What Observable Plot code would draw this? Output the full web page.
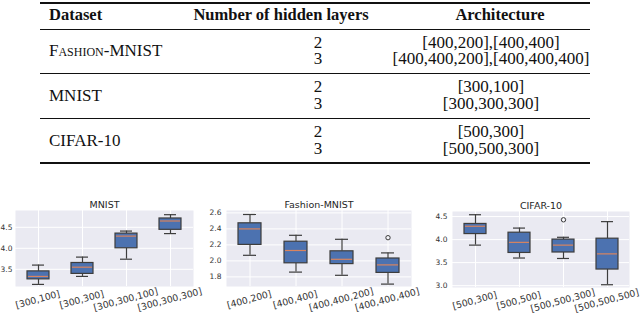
<!DOCTYPE html>
<html><head><meta charset="utf-8">
<script src="https://cdn.jsdelivr.net/npm/d3@7"></script>
<script src="https://cdn.jsdelivr.net/npm/@observablehq/plot@0.6"></script>
<style>
html,body{margin:0;padding:0;background:#fff;}
#root{position:relative;width:640px;height:315px;overflow:hidden;background:#fff;}
.cell{position:absolute;line-height:16.5px;font-family:"Liberation Serif","DejaVu Serif","Times New Roman",serif;color:#111;white-space:nowrap;font-size:17px;}
.cell span{display:block;height:16.5px;line-height:16.5px;}
.hdr{font-weight:bold;font-size:16.5px;}
.sc{font-variant:small-caps;}
.rule{position:absolute;left:40px;width:550px;background:#111;}
.panel{position:absolute;}
</style></head><body><div id="root"></div>
<script>
// ---- Table data ----
const tableHeaders = ["Dataset", "Number of hidden layers", "Architecture"];
const tableDatasets = ["Fashion-MNIST", "MNIST", "CIFAR-10"];
const tableLayers = [["2", "3"], ["2", "3"], ["2", "3"]];
const tableArchs = [
  ["[400,200],[400,400]", "[400,400,200],[400,400,400]"],
  ["[300,100]", "[300,300,300]"],
  ["[500,300]", "[500,500,300]"]
];

// ---- Box plot data ----
const mnistTitle = "MNIST";
const mnistCats = ["[300,100]", "[300,300]", "[300,300,100]", "[300,300,300]"];
const mnistLo  = [3.14, 3.33, 3.74, 4.35];
const mnistQ1  = [3.26, 3.39, 4.00, 4.44];
const mnistMed = [3.33, 3.55, 4.29, 4.65];
const mnistQ3  = [3.45, 3.65, 4.35, 4.71];
const mnistHi  = [3.60, 3.79, 4.41, 4.80];
const mnistOutCat = [];
const mnistOutVal = [];
const mnistTicks = [3.5, 4.0, 4.5];

const fashionTitle = "Fashion-MNIST";
const fashionCats = ["[400,200]", "[400,400]", "[400,400,200]", "[400,400,400]"];
const fashionLo  = [2.07, 1.86, 1.82, 1.71];
const fashionQ1  = [2.20, 1.97, 1.96, 1.85];
const fashionMed = [2.40, 2.13, 2.02, 1.95];
const fashionQ3  = [2.47, 2.24, 2.12, 2.03];
const fashionHi  = [2.58, 2.32, 2.27, 2.10];
const fashionOutCat = ["[400,400,400]"];
const fashionOutVal = [2.29];
const fashionTicks = [1.8, 2.0, 2.2, 2.4, 2.6];

const cifarTitle = "CIFAR-10";
const cifarCats = ["[500,300]", "[500,500]", "[500,500,300]", "[500,500,500]"];
const cifarLo  = [3.88, 3.60, 3.59, 3.02];
const cifarQ1  = [4.12, 3.71, 3.72, 3.35];
const cifarMed = [4.29, 3.94, 3.88, 3.69];
const cifarQ3  = [4.34, 4.15, 4.00, 4.02];
const cifarHi  = [4.54, 4.25, 4.05, 4.39];
const cifarOutCat = ["[500,500,300]"];
const cifarOutVal = [4.43];
const cifarTicks = [3.0, 3.5, 4.0, 4.5];

const root = document.getElementById("root");

// ---- Table ----
function rule(y, h) {
  const d = document.createElement("div");
  d.className = "rule";
  d.style.top = y + "px";
  d.style.height = h + "px";
  root.appendChild(d);
}
// lines: array of strings; cy = vertical centre of the first line
function cell(lines, x, cy, align, cls) {
  const d = document.createElement("div");
  d.className = "cell " + (cls || "");
  lines.forEach(t => {
    const s = document.createElement("span");
    s.textContent = t;
    d.appendChild(s);
  });
  d.style.top = (cy - 8.25) + "px";
  if (align === "left") { d.style.left = x + "px"; }
  else { d.style.left = (x - 200) + "px"; d.style.width = "400px"; d.style.textAlign = "center"; }
  root.appendChild(d);
}
rule(2, 1.7);
rule(28.6, 0.9);
cell([tableHeaders[0]], 49, 15, "left", "hdr");
cell([tableHeaders[1]], 281, 15, "center", "hdr");
cell([tableHeaders[2]], 500, 15, "center", "hdr");
const groupTops = [29, 73.7, 118.4];
tableDatasets.forEach((ds, i) => {
  const R = groupTops[i];
  cell([ds], 49, R + 22.5, "left", i === 0 ? "sc" : "");
  cell(tableLayers[i], 318, R + 14, "center");
  cell(tableArchs[i], 491, R + 14, "center");
  if (i < 2) rule(groupTops[i + 1] - 0.5, 0.9);
});
rule(162.3, 1.7);

// ---- Box plots ----
function panel(o) {
  const rows = o.cats.map((c, i) => ({cat: c, lo: o.lo[i], q1: o.q1[i], med: o.med[i], q3: o.q3[i], hi: o.hi[i]}));
  const outs = o.outCat.map((c, i) => ({cat: c, v: o.outVal[i]}));
  const mL = 26, mR = 18, mT = o.frameTop - 194, mB = 315 - (o.frameTop + 76);
  const edge = "#3d3d3d";
  const svg = Plot.plot({
    width: mL + o.frameWidth + mR,
    height: 121,
    marginLeft: mL, marginRight: mR, marginTop: mT, marginBottom: mB,
    style: {background: "transparent", overflow: "visible", fontFamily: "DejaVu Sans, sans-serif"},
    x: {domain: o.cats, type: "band", paddingInner: 0.5, paddingOuter: 0.25, axis: null},
    y: {domain: o.domain, axis: null},
    marks: [
      Plot.frame({fill: "#EAEAF2", stroke: "none"}),
      Plot.gridY(o.ticks, {stroke: "white", strokeOpacity: 1, strokeWidth: 1}),
      Plot.ruleX(o.cats, {x: d => d, stroke: "white", strokeWidth: 1}),
      Plot.axisY(o.ticks, {tickSize: 0, tickPadding: o.pad, tickFormat: d3.format(".1f"), fontSize: 7.5, fill: "#333"}),
      Plot.ruleX(rows, {x: "cat", y1: "lo", y2: "q1", stroke: edge, strokeWidth: 1.2}),
      Plot.ruleX(rows, {x: "cat", y1: "q3", y2: "hi", stroke: edge, strokeWidth: 1.2}),
      Plot.tickY(rows, {x: "cat", y: "lo", stroke: edge, strokeWidth: 1.2, inset: 5}),
      Plot.tickY(rows, {x: "cat", y: "hi", stroke: edge, strokeWidth: 1.2, inset: 5}),
      Plot.barY(rows, {x: "cat", y1: "q1", y2: "q3", fill: "#4C72B0", stroke: edge, strokeWidth: 1.2}),
      Plot.tickY(rows, {x: "cat", y: "med", stroke: "#D9845F", strokeWidth: 1.2, inset: 1}),
      Plot.dot(outs, {x: "cat", y: "v", r: 2.2, stroke: edge, fill: "none", strokeWidth: 1}),
      Plot.text(o.cats, {x: d => d, frameAnchor: "bottom", dy: 16, rotate: -15, fontSize: 9.3, fill: "#333"}),
      Plot.text([o.title], {frameAnchor: "top", lineAnchor: "bottom", dy: -3, fontSize: 9.5, fill: "#262626"})
    ]
  });
  svg.classList.add("panel");
  svg.style.left = (o.frameLeft - mL) + "px";
  svg.style.top = "194px";
  svg.style.maxWidth = "none";
  root.appendChild(svg);
}

panel({title: mnistTitle, cats: mnistCats, lo: mnistLo, q1: mnistQ1, med: mnistMed, q3: mnistQ3, hi: mnistHi,
  outCat: mnistOutCat, outVal: mnistOutVal, ticks: mnistTicks, domain: [3.09, 4.9], frameLeft: 15, frameWidth: 178, frameTop: 210, pad: 3});
panel({title: fashionTitle, cats: fashionCats, lo: fashionLo, q1: fashionQ1, med: fashionMed, q3: fashionQ3, hi: fashionHi,
  outCat: fashionOutCat, outVal: fashionOutVal, ticks: fashionTicks, domain: [1.68, 2.63], frameLeft: 226, frameWidth: 185, frameTop: 210, pad: 5});
panel({title: cifarTitle, cats: cifarCats, lo: cifarLo, q1: cifarQ1, med: cifarMed, q3: cifarQ3, hi: cifarHi,
  outCat: cifarOutCat, outVal: cifarOutVal, ticks: cifarTicks, domain: [2.96, 4.61], frameLeft: 452, frameWidth: 177, frameTop: 211, pad: 5});
</script>
</body></html>
